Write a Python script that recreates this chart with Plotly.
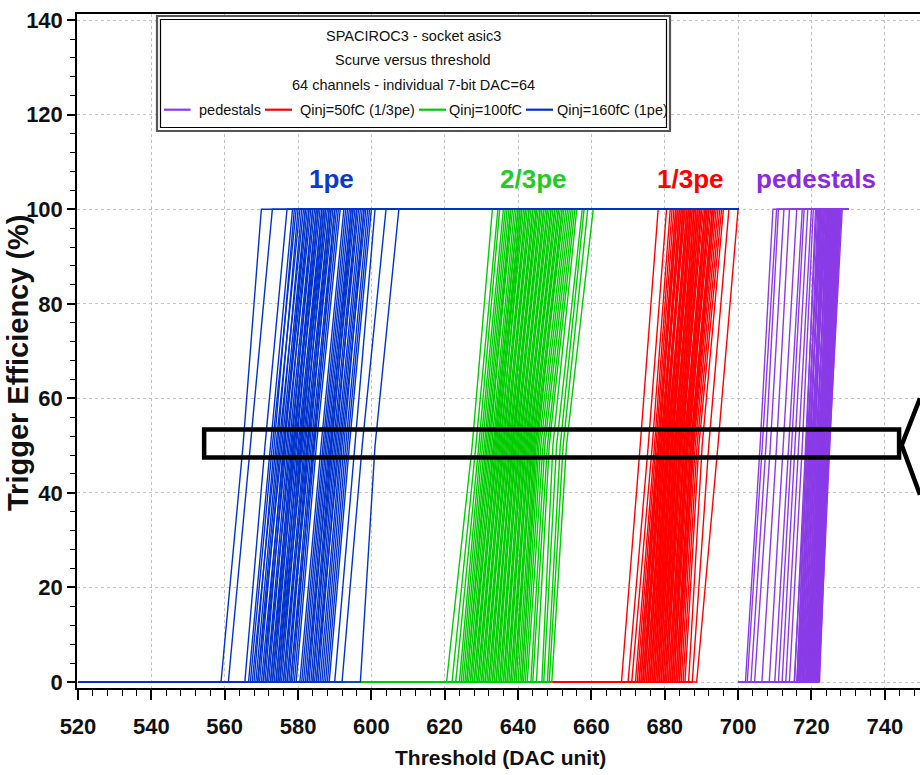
import plotly.graph_objects as go

# ---------------- data ----------------
# Threshold scan ranges (DAC units)
scan_main = [520, 700]      # Qinj scans
scan_ped = [700, 730]       # pedestal scan

# Qinj = 160 fC (1pe) : x at 0 %, 50 %, 100 % efficiency for the 64 channels
blue_x0 = [559.0, 561.0, 565.5, 566.5, 567.0, 568.0, 567.5, 568.5, 569.0, 569.5,
           569.0, 570.5, 570.0, 571.0, 570.5, 571.5, 572.0, 571.5, 572.5, 573.0,
           572.5, 573.5, 573.0, 574.0, 574.5, 574.0, 575.0, 574.5, 575.5, 575.0,
           576.0, 576.5, 576.0, 577.0, 577.5, 577.0, 578.0, 578.5, 578.0, 579.0,
           579.5, 580.5, 581.0, 581.5, 582.0, 582.5, 583.0, 582.5, 583.5, 584.0,
           584.0, 584.5, 585.0, 585.5, 585.0, 586.0, 586.5, 587.0, 587.5, 588.0,
           588.5, 590.0, 592.0, 597.0]
blue_x50 = [565.0, 567.0, 571.0, 572.5, 573.0, 573.5, 574.0, 574.4, 574.8, 575.2,
            575.6, 576.0, 576.2, 576.4, 576.8, 577.2, 577.6, 578.0, 578.3, 578.6,
            578.8, 579.0, 579.3, 579.6, 580.0, 580.3, 580.6, 580.8, 581.0, 581.3,
            581.7, 582.0, 582.4, 582.6, 582.8, 583.2, 583.6, 584.0, 584.3, 584.5,
            585.0, 586.3, 586.8, 587.2, 587.6, 588.0, 588.4, 588.8, 589.0, 589.2,
            589.6, 590.0, 590.4, 590.8, 591.2, 591.6, 592.0, 592.5, 593.0, 593.5,
            594.0, 595.5, 597.5, 601.0]
blue_x100 = [570.0, 573.0, 577.0, 578.5, 579.5, 579.0, 580.5, 580.0, 581.5, 581.0,
             582.0, 582.5, 583.0, 582.0, 583.5, 583.0, 584.0, 584.5, 584.0, 585.0,
             585.5, 585.0, 586.0, 585.5, 586.5, 587.0, 586.5, 587.5, 587.0, 588.0,
             587.5, 588.5, 589.0, 588.5, 589.5, 589.0, 590.0, 590.5, 590.0, 591.0,
             591.5, 592.5, 593.0, 593.5, 594.0, 594.5, 595.0, 594.5, 595.5, 595.0,
             596.0, 596.5, 596.0, 597.0, 597.5, 598.0, 598.5, 598.0, 599.0, 599.5,
             600.0, 601.0, 604.0, 607.5]

# Qinj = 100 fC (2/3pe)
green_x0 = [620.5, 622.0, 623.0, 624.0, 624.5, 625.0, 625.5, 626.0, 626.0, 626.5,
            627.0, 627.5, 627.0, 628.0, 628.5, 628.0, 629.0, 629.5, 629.0, 630.0,
            630.5, 630.0, 631.0, 631.5, 631.0, 632.0, 632.5, 632.0, 633.0, 633.5,
            633.0, 634.0, 634.5, 634.0, 635.0, 635.5, 635.0, 636.0, 636.5, 636.0,
            637.0, 637.5, 637.0, 638.0, 638.5, 638.0, 639.0, 639.5, 639.0, 640.0,
            640.5, 641.0, 641.0, 641.5, 642.0, 642.5, 643.5, 644.0, 645.0, 646.5,
            647.0, 648.0, 648.5, 649.2]
green_x50 = [627.5, 628.5, 629.3, 629.8, 630.3, 630.8, 631.2, 631.6, 632.0, 632.4,
             632.8, 633.2, 633.5, 633.8, 634.1, 634.4, 634.7, 635.0, 635.3, 635.6,
             635.9, 636.2, 636.5, 636.8, 637.1, 637.4, 637.7, 638.0, 638.3, 638.4,
             638.6, 638.9, 639.2, 639.5, 639.8, 640.1, 640.4, 640.7, 641.0, 641.3,
             641.6, 641.9, 642.2, 642.5, 642.8, 643.1, 643.4, 643.7, 644.0, 644.3,
             644.6, 644.9, 645.3, 645.7, 646.2, 646.8, 647.3, 648.0, 648.5, 649.5,
             650.5, 651.5, 652.3, 653.2]
green_x100 = [633.0, 634.5, 635.0, 636.0, 636.5, 637.0, 637.5, 638.0, 638.5, 638.0,
              639.0, 639.5, 640.0, 640.0, 640.5, 641.0, 640.5, 641.5, 641.0, 642.0,
              642.5, 642.0, 643.0, 643.5, 643.0, 644.0, 644.5, 644.0, 645.0, 645.0,
              645.5, 645.0, 646.0, 646.5, 646.0, 647.0, 647.5, 647.0, 648.0, 648.5,
              648.0, 649.0, 649.5, 649.0, 650.0, 650.5, 650.0, 651.0, 651.5, 651.0,
              652.0, 652.5, 652.0, 653.0, 653.5, 654.0, 654.5, 655.0, 655.5, 656.0,
              657.5, 658.0, 659.0, 660.5]

# Qinj = 50 fC (1/3pe)
red_x0 = [668.2, 670.0, 671.0, 672.0, 672.5, 673.0, 673.0, 673.5, 673.5, 674.0,
          674.5, 674.0, 674.5, 674.0, 675.0, 675.5, 675.0, 675.5, 676.0, 676.0,
          676.5, 676.0, 677.0, 676.5, 677.0, 677.5, 677.0, 678.0, 677.5, 678.0,
          678.5, 678.0, 678.5, 679.0, 679.0, 679.5, 679.0, 679.5, 680.0, 680.0,
          680.5, 680.0, 680.5, 681.0, 681.5, 681.0, 681.5, 682.0, 682.0, 682.5,
          682.0, 682.5, 683.0, 683.5, 683.0, 683.5, 684.0, 684.0, 684.5, 685.0,
          685.5, 686.5, 687.5, 688.7]
red_x50 = [673.3, 675.5, 676.6, 677.2, 677.6, 678.0, 678.3, 678.4, 678.6, 678.9,
           679.0, 679.2, 679.5, 679.6, 679.8, 679.9, 680.1, 680.4, 680.5, 680.7,
           680.9, 681.0, 681.1, 681.3, 681.6, 681.8, 681.9, 682.0, 682.2, 682.5,
           682.6, 682.8, 683.0, 683.1, 683.4, 683.5, 683.7, 684.0, 684.1, 684.3,
           684.4, 684.6, 684.9, 685.2, 685.3, 685.5, 685.8, 685.9, 686.1, 686.2,
           686.4, 686.7, 687.0, 687.1, 687.3, 687.6, 687.7, 687.9, 688.3, 688.8,
           689.3, 690.2, 692.0, 694.5]
red_x100 = [678.2, 680.5, 681.5, 682.0, 682.5, 683.0, 683.5, 683.5, 683.0, 684.0,
            684.5, 684.5, 684.0, 685.5, 685.0, 685.0, 685.5, 685.0, 686.5, 686.0,
            686.5, 686.5, 686.0, 687.0, 687.0, 687.0, 687.5, 687.5, 687.0, 688.0,
            688.0, 688.5, 688.0, 689.0, 689.0, 688.5, 689.5, 689.0, 689.5, 690.0,
            690.0, 690.5, 690.0, 691.0, 691.0, 691.5, 691.0, 691.5, 692.0, 692.0,
            692.5, 692.0, 693.0, 693.0, 693.5, 693.0, 693.5, 694.0, 694.5, 695.0,
            695.5, 696.0, 697.5, 700.0]

# pedestals
purple_x0 = [702.0, 702.5, 703.5, 704.5, 706.5, 708.5, 710.0, 711.0, 712.0, 713.0,
             714.0, 715.4, 716.1, 715.3, 716.0, 716.7, 716.4, 716.1, 716.8, 717.0,
             716.7, 717.4, 717.1, 717.8, 718.0, 717.7, 718.4, 718.1, 718.8, 719.0,
             718.6, 719.2, 719.8, 719.4, 719.0, 719.6, 720.2, 719.8, 719.4, 720.0,
             720.6, 720.2, 719.8, 720.4, 721.0, 720.6, 720.2, 720.8, 721.4, 721.0,
             720.6, 721.2, 721.8, 721.4, 721.0, 721.6, 722.2, 721.8, 721.4, 722.0,
             716.5, 717.5, 718.5, 719.0]
purple_x50 = [706.0, 706.6, 707.6, 708.8, 710.5, 712.3, 713.8, 714.6, 715.5, 716.5,
              717.5, 718.4, 718.6, 718.8, 719.0, 719.2, 719.4, 719.6, 719.8, 720.0,
              720.2, 720.4, 720.6, 720.8, 721.0, 721.2, 721.4, 721.6, 721.8, 722.0,
              722.1, 722.2, 722.3, 722.4, 722.5, 722.6, 722.7, 722.8, 722.9, 723.0,
              723.1, 723.2, 723.3, 723.4, 723.5, 723.6, 723.7, 723.8, 723.9, 724.0,
              724.1, 724.2, 724.3, 724.4, 724.5, 724.6, 724.7, 724.8, 724.9, 725.0,
              719.5, 720.5, 721.5, 722.05]
purple_x100 = [709.5, 710.5, 711.0, 712.5, 714.0, 716.0, 717.5, 718.0, 719.0, 720.0,
               720.5, 721.4, 721.1, 722.3, 722.0, 721.7, 722.9, 722.6, 722.3, 723.5,
               723.2, 722.9, 724.1, 723.8, 723.5, 724.7, 724.4, 724.1, 725.3, 725.0,
               724.6, 725.7, 725.3, 724.9, 726.0, 725.6, 725.2, 726.3, 725.9, 725.5,
               726.6, 726.2, 725.8, 726.9, 726.5, 726.1, 727.2, 726.8, 726.4, 727.5,
               727.1, 726.7, 727.8, 727.4, 727.0, 728.1, 727.7, 727.3, 728.4, 728.0,
               722.5, 723.5, 724.5, 725.0]

series_names = ["pedestals", "Qinj=50fC (1/3pe)", "Qinj=100fC", "Qinj=160fC (1pe)"]
series_colors = ["#8a3be6", "#ff0000", "#00cc00", "#0033cc"]
group_labels = ["pedestals", "1/3pe", "2/3pe", "1pe"]
group_label_colors = ["#8a2be2", "#ff0000", "#22cc22", "#0a3acc"]
group_label_x = [721.3, 686.9, 644.1, 589.0]
group_label_y = 106.5

x_ticks = [520, 540, 560, 580, 600, 620, 640, 660, 680, 700, 720, 740]
y_ticks = [0, 20, 40, 60, 80, 100, 120, 140]

legend_title_lines = ["SPACIROC3 - socket asic3",
                      "Scurve versus threshold",
                      "64 channels - individual 7-bit DAC=64"]

# ---------------- figure ----------------
W, H = 920, 775
ML, MR, MT, MB = 77, 0, 14, 87
PW, PH = W - ML - MR, H - MT - MB


def px(xp):
    return (xp - ML) / PW


def py(yp):
    return (H - MB - yp) / PH


def build(x0s, x50s, x100s, scan):
    xs, ys = [], []
    for a, b, c in zip(x0s, x50s, x100s):
        xs += [scan[0], a, b, c, scan[1], None]
        ys += [0, 0, 50, 100, 100, None]
    return xs, ys


groups = [
    (purple_x0, purple_x50, purple_x100, scan_ped),
    (red_x0, red_x50, red_x100, scan_main),
    (green_x0, green_x50, green_x100, scan_main),
    (blue_x0, blue_x50, blue_x100, scan_main),
]

fig = go.Figure()
for (g, name, col) in zip(groups, series_names, series_colors):
    xs, ys = build(*g)
    fig.add_trace(go.Scatter(x=xs, y=ys, mode="lines", name=name,
                             line=dict(color=col, width=1.4),
                             connectgaps=False, showlegend=False,
                             hoverinfo="skip"))

FONT = "Liberation Sans, Arial, sans-serif"

fig.update_layout(
    width=W, height=H,
    margin=dict(l=ML, r=MR, t=MT, b=MB, autoexpand=False),
    plot_bgcolor="white", paper_bgcolor="white",
    showlegend=False,
    font=dict(family=FONT, color="black"),
)

axis_common = dict(
    ticks="outside", tickcolor="black", tickwidth=1.5,
    showline=True, linecolor="black", linewidth=1.5,
    showgrid=True, gridcolor="#c4c4c4", griddash="dot", gridwidth=1,
    zeroline=False, automargin=False,
    tickfont=dict(family=FONT, size=22, color="#111111", weight="bold"),
)

fig.update_xaxes(range=[519.73, 749.6], tickmode="array", tickvals=x_ticks,
                 ticktext=[str(v) for v in x_ticks], ticklen=10, mirror=True,
                 minor=dict(dtick=4, tick0=520, ticks="outside", ticklen=6,
                            tickwidth=1, tickcolor="black", showgrid=False),
                 ticklabelstandoff=8,
                 **axis_common)
fig.update_yaxes(range=[-1.27, 141.3], tickmode="array", tickvals=y_ticks,
                 ticktext=[str(v) for v in y_ticks], ticklen=8,
                 minor=dict(dtick=4, tick0=0, ticks="outside", ticklen=5,
                            tickwidth=1, tickcolor="black", showgrid=False),
                 **axis_common)

shapes = []
# legend box (white, double border)
shapes.append(dict(type="rect", xref="paper", yref="paper",
                   x0=px(157), x1=px(670), y0=py(131), y1=py(16),
                   fillcolor="white", line=dict(color="#555555", width=2.2),
                   layer="above"))
shapes.append(dict(type="rect", xref="paper", yref="paper",
                   x0=px(160.5), x1=px(666.5), y0=py(127.5), y1=py(19.5),
                   fillcolor="rgba(0,0,0,0)", line=dict(color="black", width=1.2),
                   layer="above"))
# legend samples
legend_sample_x = [(164, 190.5), (265, 292), (419, 446), (526, 553)]
legend_text_x = [197, 298, 447, 555]
legend_row_y = 109.7
for (a, b), col in zip(legend_sample_x, series_colors):
    shapes.append(dict(type="line", xref="paper", yref="paper",
                       x0=px(a), x1=px(b), y0=py(legend_row_y), y1=py(legend_row_y),
                       line=dict(color=col, width=2.2), layer="above"))

# highlight box + callout lines
shapes.append(dict(type="rect", xref="x", yref="y", x0=554.4, x1=743.9, y0=47.5, y1=53.4,
                   line=dict(color="black", width=4.5), fillcolor="rgba(0,0,0,0)",
                   layer="above"))
shapes.append(dict(type="line", xref="x", yref="y", x0=744.6, y0=50.1, x1=749.6, y1=60.0,
                   line=dict(color="black", width=4.5), layer="above"))
shapes.append(dict(type="line", xref="x", yref="y", x0=744.6, y0=50.1, x1=749.6, y1=39.6,
                   line=dict(color="black", width=4.5), layer="above"))
fig.update_layout(shapes=shapes)

ann = []
for txt, yy in zip(legend_title_lines, [36, 60.5, 85]):
    ann.append(dict(text=txt, xref="paper", yref="paper", x=px(413), y=py(yy),
                    xanchor="center", yanchor="middle", showarrow=False,
                    font=dict(family=FONT, size=14.5, color="#111111")))
for txt, xx in zip(series_names, legend_text_x):
    ann.append(dict(text=txt, xref="paper", yref="paper", x=px(xx), y=py(legend_row_y),
                    xanchor="left", yanchor="middle", showarrow=False,
                    font=dict(family=FONT, size=14.5, color="#111111")))
for txt, xx, col in zip(group_labels, group_label_x, group_label_colors):
    ann.append(dict(text=txt, xref="x", yref="y", x=xx, y=group_label_y,
                    xanchor="center", yanchor="middle", showarrow=False,
                    font=dict(family=FONT, size=26, color=col, weight="bold")))
# axis titles
ann.append(dict(text="Threshold (DAC unit)", xref="paper", yref="paper",
                x=px(500), y=py(757), xanchor="center", yanchor="middle",
                showarrow=False, font=dict(family=FONT, size=21, color="#111111", weight="bold")))
ann.append(dict(text="Trigger Efficiency (%)", xref="paper", yref="paper",
                x=px(18), y=py(363), xanchor="center", yanchor="middle", textangle=-90,
                showarrow=False, font=dict(family=FONT, size=29, color="#111111", weight="bold")))
fig.update_layout(annotations=ann)

fig.write_html("out.html")
